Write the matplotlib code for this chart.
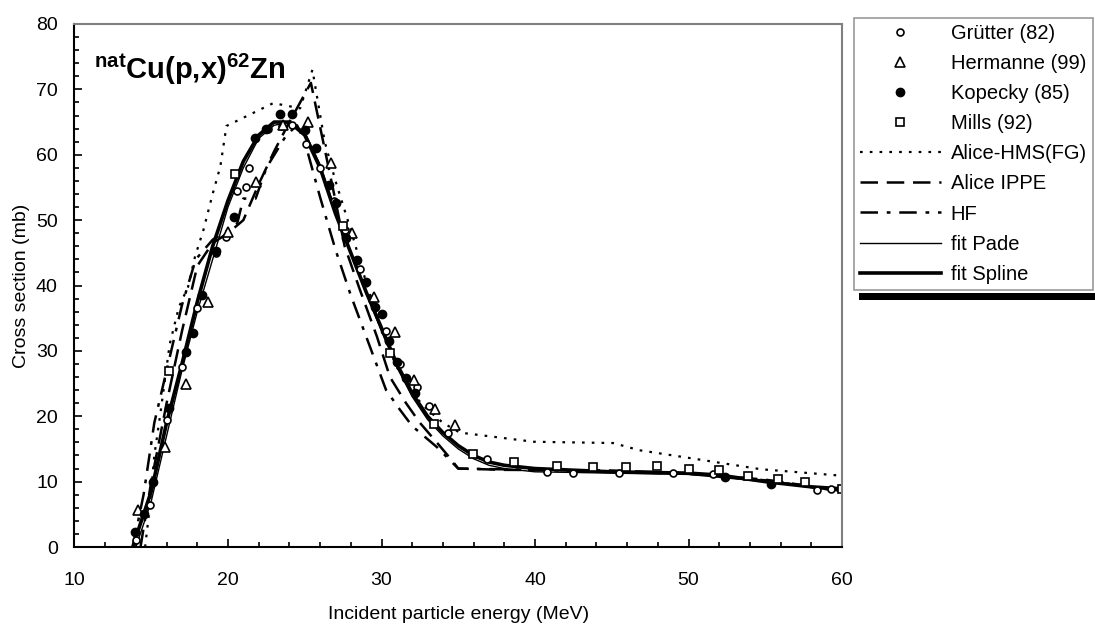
import numpy as np
import matplotlib.pyplot as plt
from matplotlib.patches import Rectangle

plt.rcParams['font.family'] = ['Liberation Sans', 'DejaVu Sans']
plt.rcParams['mathtext.fontset'] = 'custom'
plt.rcParams['mathtext.bf'] = 'Liberation Sans:bold'
plt.rcParams['mathtext.rm'] = 'Liberation Sans'

# experimental data
grutter_x = [14.0, 14.9, 16.0, 17.0, 18.0, 19.2, 19.9, 20.6, 21.2, 21.4, 22.6, 23.5, 24.2, 25.1, 26.0, 26.9,
             27.6, 28.6, 29.4, 30.3, 31.2, 32.3, 33.1, 34.3, 36.85, 40.8, 42.5, 45.5, 49.0, 51.6, 58.4, 59.3]
grutter_y = [1.0, 6.5, 19.4, 27.5, 36.5, 45.0, 47.4, 54.4, 55.1, 58.0, 64.0, 64.4, 64.5, 61.7, 58.0, 53.0,
             48.5, 42.5, 38.0, 33.0, 28.0, 24.5, 21.5, 17.5, 13.5, 11.4, 11.3, 11.3, 11.3, 11.2, 8.7, 8.8]

hermanne_x = [14.16, 15.9, 17.26, 18.7, 20.0, 21.8, 23.6, 25.23, 26.72, 28.1, 29.5, 30.9, 32.1, 33.5, 34.8]
hermanne_y = [5.7, 15.3, 25.0, 37.5, 48.2, 55.9, 64.5, 65.0, 58.7, 48.1, 38.3, 32.9, 25.6, 21.1, 18.6]

kopecky_x = [13.94, 14.5, 15.13, 16.17, 17.26, 17.7, 18.3, 19.2, 20.4, 21.76, 22.5, 23.4, 24.2, 25.0, 25.73,
             26.58, 27.04, 27.7, 28.4, 29.0, 29.6, 30.0, 30.5, 31.0, 31.6, 32.2, 52.4, 55.4]
kopecky_y = [2.3, 5.0, 10.0, 21.2, 29.9, 32.7, 38.5, 45.3, 50.5, 62.6, 63.9, 66.2, 66.2, 63.8, 61.0,
             55.4, 52.6, 47.2, 43.9, 40.6, 36.7, 35.7, 31.5, 28.3, 25.8, 23.5, 10.75, 9.7]

mills_x = [16.14, 20.46, 27.5, 30.55, 33.4, 35.98, 38.63, 41.45, 43.8, 45.9, 47.97, 50.05, 52.0, 53.86,
           55.8, 57.6, 60.0]
mills_y = [26.9, 57.1, 49.1, 29.6, 18.8, 14.3, 13.0, 12.4, 12.2, 12.2, 12.4, 11.9, 11.8, 10.9,
           10.35, 10.0, 8.8]

# model calculations
hms_x = [14.6, 14.9, 15.2, 15.6, 16.2, 16.8, 17.4, 17.85, 18.4, 19.0, 19.5, 19.9, 22.95, 24.7, 25.5, 26.3,
         27.0, 28.0, 29.0, 30.0, 31.0, 32.0, 33.0, 34.0, 35.1, 39.9, 45.1, 46.8, 50.1, 54.7, 60.0]
hms_y = [0.0, 6.0, 14.0, 20.5, 31.0, 36.7, 39.8, 44.4, 48.5, 54.0, 58.2, 64.4, 67.9, 67.1, 73.0, 62.0,
         56.0, 48.5, 40.5, 33.0, 27.5, 23.5, 21.0, 19.0, 17.5, 16.1, 15.9, 14.8, 13.6, 11.9, 10.9]

ippe_x = [14.3, 15.0, 16.0, 17.0, 18.0, 19.0, 20.0, 21.0, 22.0, 23.0, 24.0, 25.4, 26.2, 27.0, 27.6, 28.6,
          29.7, 30.55, 31.6, 32.5, 33.6, 34.5, 35.0, 38.0, 45.0, 50.0, 55.0, 60.0]
ippe_y = [0.0, 10.0, 22.0, 33.0, 43.0, 46.5, 48.0, 50.0, 55.5, 60.5, 65.0, 71.0, 62.0, 53.0, 46.0, 39.3,
          32.2, 26.0, 22.0, 19.0, 16.0, 13.5, 12.0, 11.8, 11.7, 11.3, 10.3, 8.6]

hf_x = [13.8, 14.5, 15.2, 16.0, 17.0, 17.9, 19.0, 20.0, 20.6, 21.0, 21.8, 22.5, 23.8, 24.5, 25.0, 26.0,
        27.0, 28.0, 29.0, 30.3, 31.2, 32.0, 33.6, 35.0, 40.0, 45.0, 50.0, 55.0, 60.0]
hf_y = [0.0, 8.0, 19.0, 27.0, 37.0, 44.0, 47.0, 48.5, 49.5, 53.3, 53.3, 58.0, 63.0, 64.5, 62.0, 53.5,
        45.5, 38.5, 32.2, 24.0, 21.0, 18.5, 15.3, 12.0, 11.8, 11.5, 11.2, 10.2, 8.5]

# fits
pade_x = [14.0, 15.0, 16.0, 17.0, 18.0, 19.0, 20.0, 21.0, 22.0, 23.0, 24.0, 25.0, 26.0, 27.0, 28.0, 29.0,
          30.0, 31.0, 32.0, 33.0, 34.0, 35.0, 36.0, 37.0, 38.0, 40.0, 45.0, 50.0, 55.0, 60.0]
pade_y = [0.0, 7.0, 17.0, 27.0, 36.0, 44.0, 52.0, 58.0, 62.5, 64.5, 65.0, 63.5, 58.5, 51.5, 45.0, 39.0,
          33.0, 27.5, 23.0, 19.5, 17.0, 15.0, 13.5, 12.5, 12.0, 11.5, 11.3, 11.1, 10.0, 8.5]

spline_x = [13.8, 14.0, 15.0, 16.0, 17.0, 18.0, 19.0, 20.0, 21.0, 22.0, 23.0, 24.0, 25.0, 26.0, 27.0, 28.0,
            29.0, 30.0, 31.0, 32.0, 33.0, 34.0, 35.0, 36.0, 37.0, 38.0, 40.0, 45.0, 50.0, 52.0, 55.0, 58.0, 60.0]
spline_y = [0.0, 1.5, 8.5, 19.0, 28.0, 37.5, 46.0, 53.0, 59.0, 63.0, 65.0, 65.0, 63.0, 58.0, 51.0, 45.0,
            39.0, 33.5, 28.0, 23.5, 20.0, 17.5, 15.5, 14.0, 13.0, 12.5, 12.0, 11.5, 11.3, 11.0, 10.0, 9.2, 8.9]

fig = plt.figure(figsize=(10.95, 6.26), dpi=100)
ax = fig.add_axes([74.5 / 1095, 1 - 547 / 626, (842 - 74.5) / 1095, (547 - 24) / 626])

ax.plot(hms_x, hms_y, color='black', lw=1.6, dashes=(1.2, 3.2), label='Alice-HMS(FG)')
ax.plot(ippe_x, ippe_y, color='black', lw=1.8, dashes=(7, 3.5), label='Alice IPPE')
ax.plot(hf_x, hf_y, color='black', lw=1.8, dashes=(7, 3.5, 1.5, 3.5), label='HF')
ax.plot(pade_x, pade_y, color='black', lw=1.0, label='fit Pade')
ax.plot(spline_x, spline_y, color='black', lw=2.6, label='fit Spline')

ax.plot(grutter_x, grutter_y, ls='none', marker='o', ms=5, mfc='white', mec='black', mew=1.2,
        label='Grütter (82)')
ax.plot(hermanne_x, hermanne_y, ls='none', marker='^', ms=7, mfc='white', mec='black', mew=1.2,
        label='Hermanne (99)')
ax.plot(kopecky_x, kopecky_y, ls='none', marker='o', ms=6, mfc='black', mec='black',
        label='Kopecky (85)')
ax.plot(mills_x, mills_y, ls='none', marker='s', ms=5.5, mfc='white', mec='black', mew=1.2,
        label='Mills (92)')

ax.set_xlim(10, 60)
ax.set_ylim(0, 80)
ax.set_xticks(np.arange(10, 61, 10))
ax.set_yticks(np.arange(0, 81, 10))
ax.set_xticks(np.arange(10, 61, 2), minor=True)
ax.set_yticks(np.arange(0, 81, 2), minor=True)
ax.tick_params(which='both', direction='in', width=1.2, labelsize=14)
ax.tick_params(which='major', length=6)
ax.tick_params(which='minor', length=3.5)
ax.tick_params(axis='x', which='major', pad=18)
ax.tick_params(axis='y', which='major', pad=12)
for s in ['left', 'bottom']:
    ax.spines[s].set_linewidth(1.5)
    ax.spines[s].set_color('black')
for s in ['top', 'right']:
    ax.spines[s].set_linewidth(1.5)
    ax.spines[s].set_color('#808080')

ax.set_xlabel('Incident particle energy (MeV)', fontsize=14, labelpad=12)
ax.set_ylabel('Cross section (mb)', fontsize=14, labelpad=4)

ax.text(11.3, 71.6, r'$\mathbf{^{nat}Cu(p{,}x)^{62}Zn}$', fontsize=21, va='baseline')

handles, labels = ax.get_legend_handles_labels()
order = [5, 6, 7, 8, 0, 1, 2, 3, 4]
leg = ax.legend([handles[i] for i in order], [labels[i] for i in order],
                loc='upper left', bbox_to_anchor=(854 / 1095, 1 - 18 / 626),
                bbox_transform=fig.transFigure, fontsize=14.5, frameon=True, fancybox=False,
                handlelength=4.0, handletextpad=0.5, borderpad=0.3, borderaxespad=0,
                labelspacing=0.55, markerscale=1.0)
leg.get_frame().set_edgecolor('#808080')
leg.get_frame().set_linewidth(1.2)
fig.patches.append(Rectangle((859 / 1095, 1 - 300 / 626), (1095 - 859) / 1095, 7 / 626,
                             transform=fig.transFigure, facecolor='black', edgecolor='none'))

fig.savefig('out.png', dpi=100)
